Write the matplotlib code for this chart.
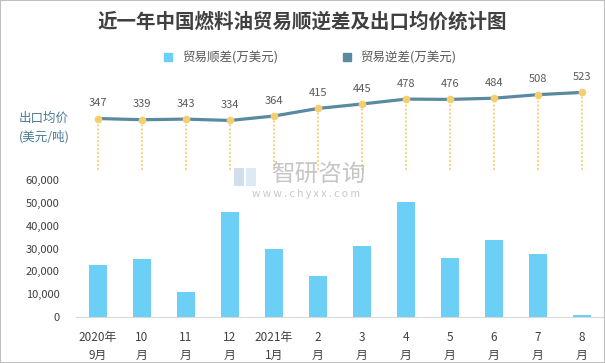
import matplotlib
matplotlib.use('Agg')
import matplotlib.pyplot as plt
from matplotlib.lines import Line2D
from matplotlib.patches import Rectangle

plt.rcParams['font.family'] = ['Noto Sans CJK SC', 'DejaVu Sans']

# 数据
months = ['2020年\n9月', '10\n月', '11\n月', '12\n月', '2021年\n1月', '2\n月',
          '3\n月', '4\n月', '5\n月', '6\n月', '7\n月', '8\n月']
surplus = [22800, 25400, 11000, 46000, 29800, 18000, 31100, 50400, 25900, 33800, 27600, 800]
price = [347, 339, 343, 334, 364, 415, 445, 478, 476, 484, 508, 523]
yticks = [0, 10000, 20000, 30000, 40000, 50000, 60000]

bar_color = '#6BCFF6'
line_color = '#5A8AA2'
gold = '#F6CF6C'
text_color = '#404040'

fig = plt.figure(figsize=(6.05, 3.63), dpi=100)
x = list(range(len(months)))

# 柱状图 - 贸易顺差
ax = fig.add_axes([76/605, 46/363, 528/605, 137/363])
ax.bar(x, surplus, width=0.41, color=bar_color, zorder=2)
ax.set_xlim(-0.5, 11.5)
ax.set_ylim(0, 60000)
ax.set_yticks(yticks)
ax.set_yticklabels([f'{v:,}' for v in yticks], fontsize=8, color=text_color)
ax.set_xticks(x)
ax.set_xticklabels(months, fontsize=8.5, color=text_color, linespacing=1.55)
for s in ['top', 'right', 'left']:
    ax.spines[s].set_visible(False)
ax.spines['bottom'].set_color('#D9D9D9')
ax.tick_params(axis='both', length=0)
ax.tick_params(axis='y', pad=12)
ax.tick_params(axis='x', pad=10)
ax.patch.set_alpha(0)

# 折线图 - 出口均价
ax2 = fig.add_axes([76/605, 193/363, 528/605, 89/363])
ax2.set_xlim(-0.5, 11.5)
ax2.set_ylim(0, 600)
ax2.vlines(x, 0, price, colors=gold, linestyles=(0, (1, 1.2)), linewidth=1.3, zorder=1)
ax2.plot(x, price, color=line_color, linewidth=2.3, zorder=2)
ax2.plot(x, price, linestyle='none', marker='o', markersize=4.5, color=gold, zorder=3)
for xi, p in zip(x, price):
    ax2.annotate(str(p), (xi, p), xytext=(0, 11), textcoords='offset points',
                 ha='center', va='center', fontsize=8, color='#595959')
ax2.axis('off')

fig.text(44/605, 1 - 128/363, '出口均价\n(美元/吨)', fontsize=9, color='#4A7C98',
         ha='center', va='center', linespacing=1.5)

# 标题
fig.text(0.5, 1 - 22/363, '近一年中国燃料油贸易顺逆差及出口均价统计图',
         fontsize=14, fontweight='bold', color=text_color, ha='center', va='center')

# 图例
handles = [Line2D([], [], linestyle='none', marker='s', markersize=6, color=bar_color),
           Line2D([], [], linestyle='none', marker='s', markersize=6, color='#588BA2')]
fig.legend(handles, ['贸易顺差(万美元)', '贸易逆差(万美元)'], loc='center',
           bbox_to_anchor=(306/605, 1 - 58/363), ncol=2, frameon=False,
           fontsize=9, handletextpad=0.1, columnspacing=4.5,
           labelcolor='#595959')

# 水印
fig.text(318/605, 1 - 175/363, '智研咨询', fontsize=17, color='#B8B8B8',
         ha='center', va='center', alpha=0.8)
fig.text(306/605, 1 - 194/363, 'w w w . c h y x x . c o m', fontsize=7.5,
         color='#B8B8B8', ha='center', va='center', alpha=0.8)
fig.patches.append(Rectangle((234/605, 1 - 186/363), 10/605, 18/363, transform=fig.transFigure,
                             facecolor='#C9D6E8', edgecolor='none', alpha=0.8))
fig.patches.append(Rectangle((246/605, 1 - 186/363), 10/605, 18/363, transform=fig.transFigure,
                             facecolor='#D3E5F3', edgecolor='none', alpha=0.8))

fig.patches.append(Rectangle((0, 0), 1, 1, transform=fig.transFigure, fill=False,
                             edgecolor='#BFBFBF', linewidth=1.5))

fig.savefig('out.png', dpi=100)
